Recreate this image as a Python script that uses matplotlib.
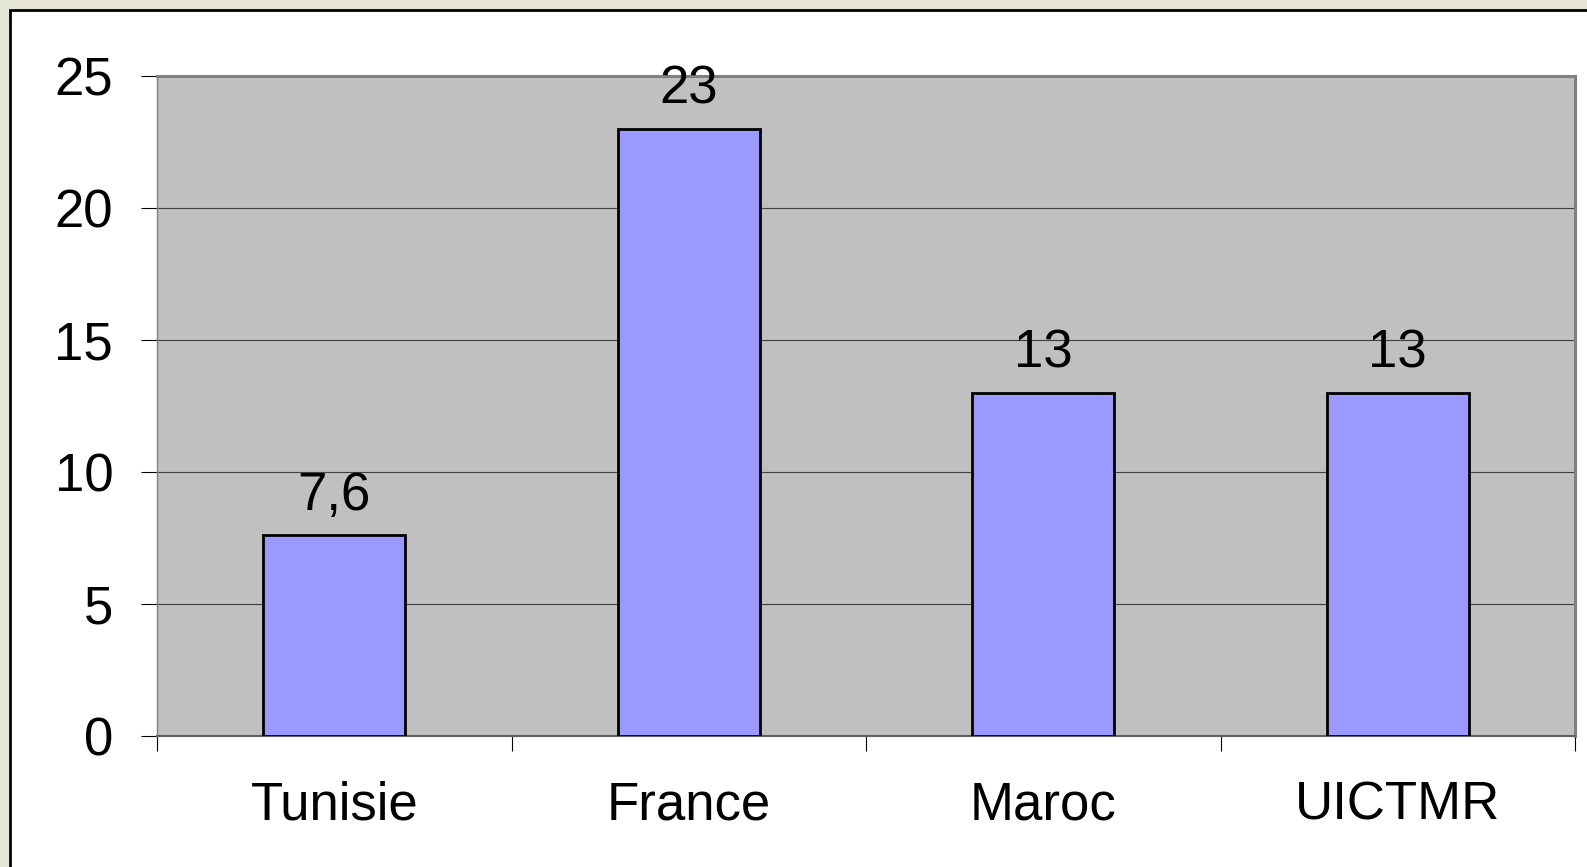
import numpy as np
import matplotlib.pyplot as plt
from matplotlib.patches import Rectangle

categories = ['Tunisie', 'France', 'Maroc', 'UICTMR']
values = [7.6, 23, 13, 13]
value_labels = ['7,6', '23', '13', '13']
yticks = [0, 5, 10, 15, 20, 25]

W, H = 1587, 867
plt.rcParams['font.family'] = ['Liberation Sans', 'DejaVu Sans']

fig = plt.figure(figsize=(W / 100, H / 100), dpi=100)
fig.patch.set_facecolor('#e6e6d6')

# white panel with black frame (extends past right/bottom edge)
panel = Rectangle((10 / W, -0.05), 1.1, (H - 10) / H + 0.05, transform=fig.transFigure,
                  facecolor='white', edgecolor='black', linewidth=2, zorder=-10)
fig.patches.append(panel)

ax = fig.add_axes([157 / W, (H - 736) / H, (1575 - 157) / W, (736 - 76) / H])
ax.set_facecolor('#c0c0c0')

x = np.arange(len(categories))
ax.bar(x, values, width=0.4, color='#9999ff', edgecolor='black', linewidth=2, zorder=3)

fs = 38
for xi, v, lab in zip(x, values, value_labels):
    ax.text(xi, v + 0.55, lab, ha='center', va='bottom', fontsize=fs, color='black')

ax.set_xlim(-0.5, len(categories) - 0.5)
ax.set_ylim(0, 25)
ax.set_yticks(yticks)
ax.set_yticklabels([str(t) for t in yticks], fontsize=fs)
ax.yaxis.grid(True, color='#404040', linewidth=0.8, zorder=1)
ax.set_axisbelow(True)

ax.set_xticks(x)
ax.set_xticklabels(categories, fontsize=fs)
ax.tick_params(axis='x', length=0, pad=32)
ax.set_xticks(np.arange(len(categories) + 1) - 0.5, minor=True)
ax.tick_params(axis='x', which='minor', length=11, width=0.8, color='black', direction='out')
ax.tick_params(axis='y', length=11.5, width=0.8, color='black', direction='out', pad=20)

for s in ['top', 'right']:
    ax.spines[s].set_color('#808080')
    ax.spines[s].set_linewidth(2.2)
ax.spines['left'].set_color('#808080')
ax.spines['left'].set_linewidth(1)
ax.spines['bottom'].set_color('#606060')
ax.spines['bottom'].set_linewidth(1.5)

fig.savefig('out.png', dpi=100, facecolor=fig.get_facecolor())
